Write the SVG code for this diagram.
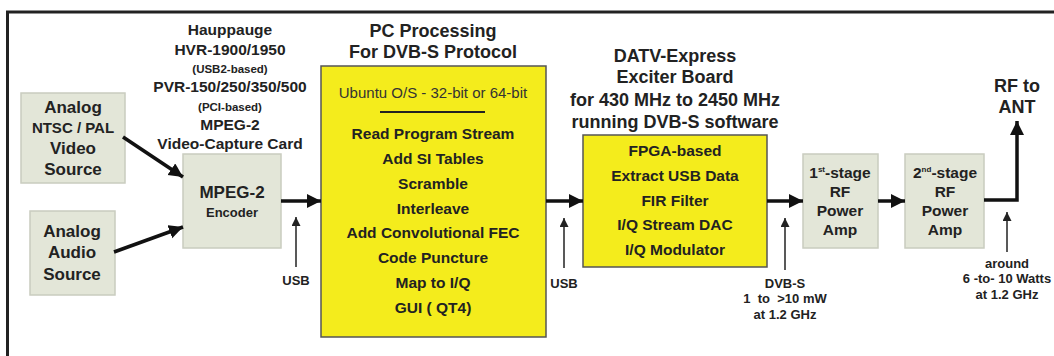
<svg xmlns="http://www.w3.org/2000/svg" width="1054" height="356" viewBox="0 0 1054 356">
<style>
text{font-family:"Liberation Sans",Arial,sans-serif;font-weight:bold;fill:#222;text-anchor:middle}
.gbox{fill:#e3e6d8;stroke:#c9ccbf;stroke-width:1.5}
.ybox{fill:#f4ec1c;stroke:#555;stroke-width:1.5}
.t18{font-size:18px}
.t17{font-size:17px}
.t155{font-size:15.5px}
.t15{font-size:15px}
.t13{font-size:13px}
.t11{font-size:11.5px}
.thick{stroke:#111;stroke-width:3.5;fill:none}
.thin{stroke:#222;stroke-width:1.5;fill:none}
</style>
<defs>
<marker id="ah" markerUnits="userSpaceOnUse" markerWidth="16" markerHeight="16" refX="14" refY="7" orient="auto">
<polygon points="0,0 14,7 0,14" fill="#111"/>
</marker>
<marker id="as" markerUnits="userSpaceOnUse" markerWidth="10" markerHeight="10" refX="9" refY="4.5" orient="auto">
<polygon points="0,0 9,4.5 0,9" fill="#222"/>
</marker>
</defs>
<rect width="1054" height="356" fill="#fff"/>
<path d="M7.5,358 V12 H1056" fill="none" stroke="#222" stroke-width="3"/>

<g id="video-source">
<rect class="gbox" x="21" y="93" width="104" height="90"/>
<text class="t17" x="73" y="113">Analog</text>
<text class="t15" x="73" y="133">NTSC / PAL</text>
<text class="t17" x="73" y="154">Video</text>
<text class="t17" x="73" y="175">Source</text>
</g>
<g id="audio-source">
<rect class="gbox" x="30" y="211" width="85" height="84"/>
<text class="t17" x="72" y="237">Analog</text>
<text class="t17" x="72" y="258">Audio</text>
<text class="t17" x="72" y="280">Source</text>
</g>
<g id="hauppauge-label">
<text class="t155" x="230" y="35">Hauppauge</text>
<text class="t155" x="230" y="55">HVR-1900/1950</text>
<text class="t11" x="230" y="73">(USB2-based)</text>
<text class="t155" x="230" y="92">PVR-150/250/350/500</text>
<text class="t11" x="230" y="111">(PCI-based)</text>
<text class="t155" x="230" y="130">MPEG-2</text>
<text class="t155" x="230" y="149">Video-Capture Card</text>
</g>
<g id="encoder">
<rect class="gbox" x="183" y="154" width="98" height="94"/>
<text class="t17" x="232" y="198">MPEG-2</text>
<text class="t13" x="232" y="217">Encoder</text>
</g>
<g id="pc">
<text class="t18" x="433" y="37">PC Processing</text>
<text class="t18" x="433" y="58">For DVB-S Protocol</text>
<rect class="ybox" x="321" y="66" width="225" height="271"/>
<text class="t15" x="433" y="98" style="font-weight:normal;fill:#333">Ubuntu O/S - 32-bit or 64-bit</text>
<line x1="380" y1="112" x2="485" y2="112" stroke="#222" stroke-width="2"/>
<text class="t155" x="433" y="139">Read Program Stream</text>
<text class="t155" x="433" y="164">Add SI Tables</text>
<text class="t155" x="433" y="189">Scramble</text>
<text class="t155" x="433" y="214">Interleave</text>
<text class="t155" x="433" y="238">Add Convolutional FEC</text>
<text class="t155" x="433" y="263">Code Puncture</text>
<text class="t155" x="433" y="288">Map to I/Q</text>
<text class="t155" x="433" y="313">GUI ( QT4)</text>
</g>
<g id="exciter">
<text class="t18" x="675" y="62">DATV-Express</text>
<text class="t18" x="675" y="83">Exciter Board</text>
<text class="t18" x="675" y="106">for 430 MHz to 2450 MHz</text>
<text class="t18" x="675" y="128">running DVB-S software</text>
<rect class="ybox" x="583" y="135" width="184" height="132"/>
<text class="t155" x="675" y="156">FPGA-based</text>
<text class="t155" x="675" y="181">Extract USB Data</text>
<text class="t155" x="675" y="206">FIR Filter</text>
<text class="t155" x="675" y="230">I/Q Stream DAC</text>
<text class="t155" x="675" y="255">I/Q Modulator</text>
</g>
<g id="amp1">
<rect class="gbox" x="803" y="154" width="75" height="94"/>
<text class="t155" x="840" y="178">1<tspan font-size="8" dy="-6">st</tspan><tspan dy="6">-stage</tspan></text>
<text class="t155" x="840" y="197">RF</text>
<text class="t155" x="840" y="216">Power</text>
<text class="t155" x="840" y="235">Amp</text>
</g>
<g id="amp2">
<rect class="gbox" x="905" y="154" width="79" height="94"/>
<text class="t155" x="945" y="178">2<tspan font-size="8" dy="-6">nd</tspan><tspan dy="6">-stage</tspan></text>
<text class="t155" x="945" y="197">RF</text>
<text class="t155" x="945" y="216">Power</text>
<text class="t155" x="945" y="235">Amp</text>
</g>
<g id="antenna">
<text class="t18" x="1017" y="92">RF to</text>
<text class="t18" x="1017" y="113">ANT</text>
</g>
<g id="connectors">
<line class="thick" x1="123" y1="137" x2="183" y2="177" marker-end="url(#ah)"/>
<line class="thick" x1="114" y1="252" x2="183" y2="227" marker-end="url(#ah)"/>
<line class="thick" x1="281" y1="201" x2="321" y2="201" marker-end="url(#ah)"/>
<line class="thick" x1="546" y1="201" x2="583" y2="201" marker-end="url(#ah)"/>
<line class="thick" x1="767" y1="201" x2="803" y2="201" marker-end="url(#ah)"/>
<line class="thick" x1="878" y1="201" x2="905" y2="201" marker-end="url(#ah)"/>
<polyline class="thick" points="984,200 1017,200 1017,121" marker-end="url(#ah)"/>
<line class="thin" x1="296" y1="267" x2="296" y2="217" marker-end="url(#as)"/>
<line class="thin" x1="564" y1="268" x2="564" y2="218" marker-end="url(#as)"/>
<line class="thin" x1="785" y1="270" x2="785" y2="218" marker-end="url(#as)"/>
<line class="thin" x1="1007" y1="252" x2="1007" y2="212" marker-end="url(#as)"/>
<text class="t13" x="296" y="285">USB</text>
<text class="t13" x="564" y="288">USB</text>
<text class="t13" x="785" y="288">DVB-S</text>
<text class="t13" x="785" y="303">1&#160; to&#160; &gt;10 mW</text>
<text class="t13" x="785" y="319">at 1.2 GHz</text>
<text class="t13" x="1007" y="268">around</text>
<text class="t13" x="1007" y="283">6 -to- 10 Watts</text>
<text class="t13" x="1007" y="299">at 1.2 GHz</text>
</g>
</svg>
